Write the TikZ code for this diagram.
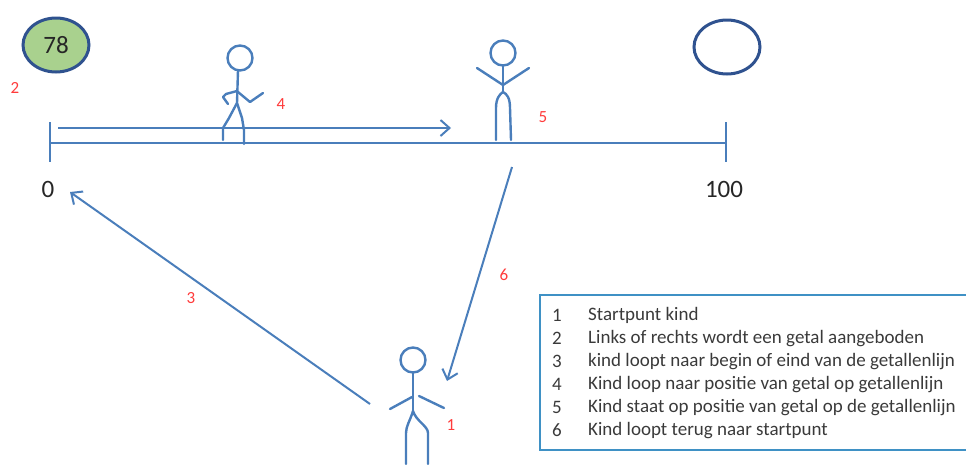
\documentclass[tikz,border=0pt]{standalone}
\usepackage{fontspec}
\setmainfont{Carlito}
\usetikzlibrary{arrows.meta}
\usetikzlibrary{shapes.geometric}
\definecolor{lineblue}{HTML}{4A7EBB}
\definecolor{darkblue}{HTML}{2F528F}
\definecolor{lightgreen}{HTML}{A9D18E}
\definecolor{labelred}{HTML}{FF3B3B}
\definecolor{textgray}{HTML}{262626}
\definecolor{legendgray}{HTML}{3A3A3A}
\tikzset{
  blueline/.style={draw=lineblue, line width=2pt},
  figure/.style={draw=lineblue, line width=2.4pt, line cap=round, line join=round},
  walkarrow/.style={blueline, -{Straight Barb[length=9pt,width=16pt,line width=2pt]}},
  redlabel/.style={text=labelred, font=\fontsize{17}{19}\selectfont, inner sep=0pt},
  axislabel/.style={text=textgray, font=\fontsize{25}{28}\selectfont, inner sep=0pt},
  numberbubble/.style={ellipse, draw=darkblue, line width=3pt, minimum width=66pt, minimum height=54pt, inner sep=0pt},
  legendline/.style={anchor=west, text=legendgray, font=\fontsize{19}{22}\selectfont, inner sep=0pt},
}
\begin{document}
\begin{tikzpicture}[x=1pt,y=-1pt]
\useasboundingbox (0,0) rectangle (966,464);

% number bubbles
\node[numberbubble, fill=lightgreen, text=textgray, font=\fontsize{25}{28}\selectfont] (given) at (56,45) {78};
\node[numberbubble] (empty) at (727,47) {};
\node[redlabel] (l2) at (15,88) {2};

% number line with end ticks
\coordinate (start) at (50,143);
\coordinate (end) at (726,143);
\draw[blueline] (start) -- (end);
\draw[blueline] (50,122) -- (50,162);
\draw[blueline] (726,122) -- (726,162);
\node[axislabel] (zero) at (48,189) {0};
\node[axislabel] (hundred) at (724,189) {100};

% walking along the line
\coordinate (walkfrom) at (58,128);
\coordinate (walkto) at (451,128);
\draw[walkarrow] (walkfrom) -- (walkto);
\node[redlabel] (l4) at (281,104) {4};

% walking child
\draw[figure] (240,58) circle (12.5);
\draw[figure] (238,70.5) -- (237,103);
\draw[figure] (237,91) -- (226,94) -- (223,97) -- (228,104);
\draw[figure] (238,92) -- (250,102) -- (263,93);
\draw[figure] (237,103) -- (229,118) -- (223,128) -- (223,140);
\draw[figure] (237,103) -- (242,118) -- (244,130) -- (244,144);

% child standing on the line
\node[redlabel] (l5) at (543,117) {5};
\draw[figure] (503,53) circle (12.5);
\draw[figure] (503,65.5) -- (503,91);
\draw[figure] (477,68) -- (503,85) -- (529,68);
\draw[figure] (496,140) -- (496,108) .. controls (496,98) and (500,94) .. (503,92)
      .. controls (507,94) and (510,98) .. (510,108) -- (511,140);

% child at the starting point
\draw[figure] (413,360) circle (12.5);
\draw[figure] (413,372.5) -- (413,411);
\draw[figure] (390,409) -- (412,397);
\draw[figure] (419,396) -- (444,408);
\draw[figure] (406,464) -- (406,433) .. controls (406,426) and (410,421) .. (413,411)
      .. controls (416,421) and (428,426) .. (428,433) -- (428,464);
\node[redlabel] (l1) at (451,425) {1};

% return paths
\coordinate (fromline) at (512,167);
\coordinate (backhome) at (447,381);
\draw[walkarrow] (fromline) -- (backhome);
\node[redlabel] (l6) at (504,275) {6};
\coordinate (leave) at (370,404);
\coordinate (lineend) at (70,192);
\draw[walkarrow] (leave) -- (lineend);
\node[redlabel] (l3) at (191,298) {3};

% legend
\draw[draw=lineblue!85!cyan, line width=2.5pt] (990,295) -- (540,295) -- (540,450) -- (990,450);
\foreach \n/\t [count=\i from 0] in {1/Startpunt kind,
  2/Links of rechts wordt een getal aangeboden,
  3/kind loopt naar begin of eind van de getallenlijn,
  4/Kind loop naar positie van getal op getallenlijn,
  5/Kind staat op positie van getal op de getallenlijn,
  6/Kind loopt terug naar startpunt}{
  \node[legendline] (num\n) at (552,315+23.1*\i) {\n};
  \node[legendline] (item\n) at (588,315+23.1*\i) {\t};
}
\end{tikzpicture}
\end{document}
